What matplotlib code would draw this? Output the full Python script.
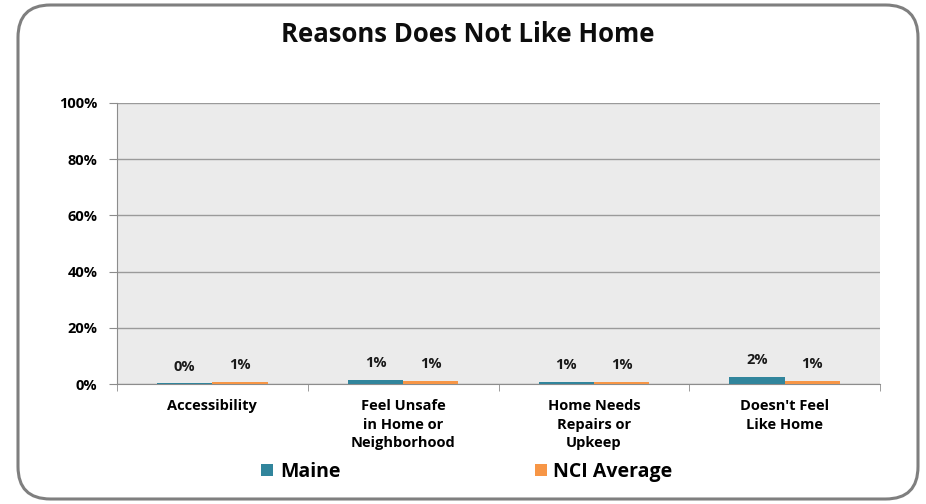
import matplotlib
matplotlib.use("Agg")
import matplotlib.pyplot as plt
from matplotlib.patches import FancyBboxPatch
import numpy as np

categories = ["Accessibility", "Feel Unsafe\nin Home or\nNeighborhood", "Home Needs\nRepairs or\nUpkeep", "Doesn't Feel\nLike Home"]
maine = [0.2, 1.4, 0.7, 2.4]
nci = [0.7, 1.0, 0.8, 1.2]
series_names = ["Maine", "NCI Average"]
yticks = [0, 20, 40, 60, 80, 100]

plt.rcParams['font.family'] = ['Open Sans', 'DejaVu Sans']

fig = plt.figure(figsize=(9.26, 5.04), dpi=100)
border = FancyBboxPatch((18/926, 5/504), 900/926, 494/504,
                        boxstyle="round,pad=0,rounding_size=0.035",
                        transform=fig.transFigure, facecolor="white",
                        edgecolor="#7f7f7f", linewidth=2.2, mutation_aspect=926/504,
                        zorder=-5)
fig.patches.append(border)

ax = fig.add_axes([117/926, 1-384/504, (880-117)/926, (384-103)/504])
ax.set_zorder(2)
ax.set_facecolor("#ebebeb")
x = np.arange(len(categories))
w = 0.29
c1, c2 = "#31859C", "#F79646"
b1 = ax.bar(x - w/2, maine, w, color=c1, label=series_names[0], zorder=3)
b2 = ax.bar(x + w/2, nci, w, color=c2, label=series_names[1], zorder=3)
for bars, vals in ((b1, maine), (b2, nci)):
    for rect, v in zip(bars, vals):
        ax.text(rect.get_x() + rect.get_width()/2, v + 3.5, f"{round(v):.0f}%",
                ha="center", va="bottom", fontsize=10.5, fontweight="bold", color="#1a1a1a")

ax.set_ylim(0, 100)
ax.set_xlim(-0.5, len(categories) - 0.5)
ax.set_yticks(yticks)
ax.set_yticklabels([f"{t}%" for t in yticks], fontsize=10.5, fontweight="bold")
ax.yaxis.grid(True, color="#9a9a9a", linewidth=1, zorder=0)
ax.set_axisbelow(True)
ax.set_xticks(x)
ax.set_xticklabels(categories, fontsize=10.5, fontweight="bold", linespacing=1.4)
ax.tick_params(axis="x", length=0, pad=11)
ax.set_xticks(np.arange(-0.5, len(categories)), minor=True)
ax.tick_params(axis="x", which="minor", length=5, color="#8c8c8c", direction="out")
ax.tick_params(axis="y", length=6, color="#8c8c8c", pad=8)
for s in ("top", "right"):
    ax.spines[s].set_visible(False)
for s in ("left", "bottom"):
    ax.spines[s].set_color("#8c8c8c")

fig.text(468/926, 1-34/504, "Reasons Does Not Like Home", ha="center", va="center",
         fontsize=18.5, fontweight="bold", color="#0d0d0d")

leg = fig.legend(handles=[b1, b2], labels=series_names, loc="center",
                 bbox_to_anchor=(467/926, 1-472/504), ncol=2, frameon=False,
                 prop={"size": 14, "weight": "bold"}, columnspacing=10,
                 handlelength=0.6, handleheight=0.6, handletextpad=0.35)

fig.savefig("out.png", dpi=100)
